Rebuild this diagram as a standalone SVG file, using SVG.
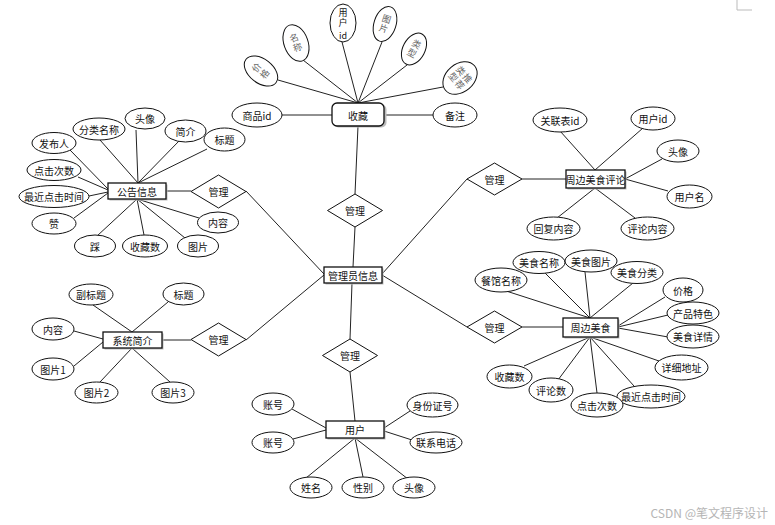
<svg xmlns="http://www.w3.org/2000/svg" width="775" height="525" viewBox="0 0 775 525">
<style>
text{font-family:"Noto Sans CJK SC","Liberation Sans",sans-serif;font-size:10px;fill:#111;text-anchor:middle;dominant-baseline:central}
text.v{writing-mode:vertical-rl;text-orientation:upright;font-size:9px;letter-spacing:1px}
.a{fill:#fff;stroke:#111;stroke-width:1}
.e{fill:#fff;stroke:#111;stroke-width:1.3}
.sh{fill:#bbb;stroke:none}
.r{fill:#fff;stroke:#111;stroke-width:1}
.g text{fill:#666}
#connectors line{stroke:#222;stroke-width:1}
.wm{fill:#b5b5b5;font-size:12px;text-anchor:end}
</style>
<rect width="775" height="525" fill="#fff"/>
<path d="M737 0V10H752" fill="none" stroke="#bbb" stroke-width="1"/>
<g id="connectors">
<line x1="278" y1="80" x2="358" y2="103"/>
<line x1="303" y1="60" x2="358" y2="103"/>
<line x1="342" y1="42" x2="358" y2="103"/>
<line x1="382" y1="42" x2="358" y2="103"/>
<line x1="407" y1="65" x2="358" y2="103"/>
<line x1="443" y1="87" x2="358" y2="103"/>
<line x1="282" y1="115" x2="332" y2="115"/>
<line x1="384" y1="115" x2="433" y2="115"/>
<line x1="358" y1="126" x2="355" y2="194"/>
<line x1="355" y1="227" x2="353" y2="267"/>
<line x1="246" y1="191" x2="324" y2="274"/>
<line x1="246" y1="340" x2="324" y2="275"/>
<line x1="467" y1="179" x2="382" y2="274"/>
<line x1="467" y1="327" x2="382" y2="275"/>
<line x1="350" y1="339" x2="352" y2="283"/>
<line x1="350" y1="372" x2="355" y2="421"/>
<line x1="166" y1="191" x2="191" y2="191"/>
<line x1="70" y1="150" x2="108" y2="189"/>
<line x1="78" y1="177" x2="108" y2="190"/>
<line x1="89" y1="196" x2="108" y2="192"/>
<line x1="74" y1="218" x2="108" y2="193"/>
<line x1="97" y1="236" x2="137" y2="199"/>
<line x1="144" y1="235" x2="137" y2="199"/>
<line x1="185" y1="238" x2="137" y2="199"/>
<line x1="199" y1="218" x2="137" y2="199"/>
<line x1="207" y1="149" x2="138" y2="183"/>
<line x1="180" y1="140" x2="138" y2="183"/>
<line x1="136" y1="130" x2="138" y2="183"/>
<line x1="100" y1="140" x2="138" y2="183"/>
<line x1="522" y1="179" x2="566" y2="179"/>
<line x1="560" y1="131" x2="595" y2="170"/>
<line x1="643" y1="128" x2="595" y2="170"/>
<line x1="662" y1="159" x2="625" y2="179"/>
<line x1="668" y1="191" x2="625" y2="179"/>
<line x1="557" y1="218" x2="595" y2="188"/>
<line x1="635" y1="218" x2="595" y2="188"/>
<line x1="522" y1="327" x2="563" y2="327"/>
<line x1="503" y1="290" x2="590" y2="318"/>
<line x1="545" y1="273" x2="590" y2="318"/>
<line x1="585" y1="272" x2="590" y2="318"/>
<line x1="633" y1="283" x2="590" y2="318"/>
<line x1="665" y1="297" x2="618" y2="326"/>
<line x1="668" y1="315" x2="618" y2="327"/>
<line x1="668" y1="337" x2="618" y2="328"/>
<line x1="659" y1="361" x2="590" y2="337"/>
<line x1="634" y1="386" x2="590" y2="337"/>
<line x1="597" y1="393" x2="590" y2="337"/>
<line x1="558" y1="380" x2="590" y2="337"/>
<line x1="524" y1="366" x2="590" y2="337"/>
<line x1="162" y1="340" x2="191" y2="340"/>
<line x1="93" y1="305" x2="132" y2="332"/>
<line x1="168" y1="302" x2="132" y2="332"/>
<line x1="74" y1="331" x2="103" y2="339"/>
<line x1="74" y1="366" x2="103" y2="342"/>
<line x1="100" y1="382" x2="132" y2="348"/>
<line x1="170" y1="382" x2="132" y2="348"/>
<line x1="292" y1="409" x2="326" y2="428"/>
<line x1="293" y1="439" x2="326" y2="430"/>
<line x1="410" y1="411" x2="384" y2="428"/>
<line x1="412" y1="440" x2="384" y2="431"/>
<line x1="306" y1="478" x2="355" y2="438"/>
<line x1="363" y1="477" x2="355" y2="438"/>
<line x1="408" y1="479" x2="355" y2="438"/>
</g>

<!-- 收藏 cluster -->
<g id="n-shoucang"><rect class="sh" x="333.5" y="104.5" width="53" height="23" rx="5"/><rect class="e" x="332" y="103" width="52" height="23" rx="5"/><text x="358" y="115">收藏</text></g>
<g id="n-spid"><ellipse class="a" cx="257" cy="115" rx="25" ry="12"/><text x="257" y="115">商品id</text></g>
<g id="n-beizhu"><ellipse class="a" cx="455" cy="115" rx="22" ry="12"/><text x="455" y="115">备注</text></g>
<g id="n-jiage1" class="g" transform="translate(261,71) rotate(-52)"><ellipse class="a" rx="12" ry="19"/><text class="v" x="0" y="0">价格</text></g>
<g id="n-mingcheng" class="g" transform="translate(296,43) rotate(-20)"><ellipse class="a" rx="12" ry="19"/><text class="v" x="0" y="0">名称</text></g>
<g id="n-yhid1" transform="translate(343,23)"><ellipse class="a" rx="13" ry="19"/><text class="v" x="0" y="-5">用户</text><text x="0" y="12" style="font-size:9px">id</text></g>
<g id="n-tupian1" class="g" transform="translate(385,24) rotate(18)"><ellipse class="a" rx="11" ry="18"/><text class="v" x="0" y="0">图片</text></g>
<g id="n-leixing" class="g" transform="translate(414,49) rotate(28)"><ellipse class="a" rx="11" ry="17"/><text class="v" x="0" y="0">类型</text></g>
<g id="n-tjlx" class="g" transform="translate(460,78) rotate(50)"><ellipse class="a" rx="14" ry="19"/><text class="v" x="5" y="0">推荐</text><text class="v" x="-5" y="0">类型</text></g>

<!-- 管理员信息 -->
<g id="n-admin"><rect class="sh" x="325.5" y="268.5" width="58" height="16"/><rect class="e" x="324" y="267" width="58" height="16"/><text x="353" y="275">管理员信息</text></g>

<!-- diamonds -->
<g id="d-top"><polygon class="r" points="355,194 382.5,210.5 355,227 327.5,210.5"/><text x="355" y="210.5">管理</text></g>
<g id="d-bottom"><polygon class="r" points="350,339 377.5,355.5 350,372 322.5,355.5"/><text x="350" y="355.5">管理</text></g>
<g id="d-lt"><polygon class="r" points="218.5,175 246,191.5 218.5,208 191,191.5"/><text x="218.5" y="191.5">管理</text></g>
<g id="d-lb"><polygon class="r" points="218.5,323 246,339.5 218.5,356 191,339.5"/><text x="218.5" y="339.5">管理</text></g>
<g id="d-rt"><polygon class="r" points="494.5,163 522,179 494.5,195 467,179"/><text x="494.5" y="179">管理</text></g>
<g id="d-rb"><polygon class="r" points="494.5,311 522,327 494.5,343 467,327"/><text x="494.5" y="327">管理</text></g>

<!-- 公告信息 -->
<g id="n-gonggao"><rect class="sh" x="109.5" y="184.5" width="58" height="16"/><rect class="e" x="108" y="183" width="58" height="16"/><text x="137" y="191">公告信息</text></g>
<g id="n-fbr"><ellipse class="a" cx="54" cy="143" rx="22" ry="10.5"/><text x="54" y="143">发布人</text></g>
<g id="n-djcs1"><ellipse class="a" cx="54" cy="170" rx="27" ry="10.5"/><text x="54" y="170">点击次数</text></g>
<g id="n-zjdj1"><ellipse class="a" cx="54" cy="196.5" rx="35" ry="11"/><text x="54" y="196.5">最近点击时间</text></g>
<g id="n-zan"><ellipse class="a" cx="54" cy="223.5" rx="22" ry="10.5"/><text x="54" y="223.5">赞</text></g>
<g id="n-cai"><ellipse class="a" cx="95" cy="246" rx="20.5" ry="11"/><text x="95" y="246">踩</text></g>
<g id="n-scs1"><ellipse class="a" cx="145" cy="246" rx="22.5" ry="11"/><text x="145" y="246">收藏数</text></g>
<g id="n-tp2"><ellipse class="a" cx="198" cy="246" rx="20.5" ry="11"/><text x="198" y="246">图片</text></g>
<g id="n-nr1"><ellipse class="a" cx="218" cy="222.5" rx="20.5" ry="10.5"/><text x="218" y="222.5">内容</text></g>
<g id="n-bt1"><ellipse class="a" cx="224.5" cy="139.5" rx="20.5" ry="11.5"/><text x="224.5" y="139.5">标题</text></g>
<g id="n-jj"><ellipse class="a" cx="185.5" cy="131" rx="20.5" ry="11"/><text x="185.5" y="131">简介</text></g>
<g id="n-tx1"><ellipse class="a" cx="145" cy="118.5" rx="20" ry="10.5"/><text x="145" y="118.5">头像</text></g>
<g id="n-flmc"><ellipse class="a" cx="99" cy="129" rx="26" ry="11"/><text x="99" y="129">分类名称</text></g>

<!-- 周边美食评论 -->
<g id="n-pinglun"><rect class="sh" x="567.5" y="171.5" width="59" height="18"/><rect class="e" x="566" y="170" width="59" height="18"/><text x="595.5" y="179">周边美食评论</text></g>
<g id="n-glbid"><ellipse class="a" cx="560" cy="120" rx="27" ry="12"/><text x="560" y="120">关联表id</text></g>
<g id="n-yhid2"><ellipse class="a" cx="653" cy="118.5" rx="22" ry="11.5"/><text x="653" y="118.5">用户id</text></g>
<g id="n-tx2"><ellipse class="a" cx="678" cy="151" rx="21" ry="11"/><text x="678" y="151">头像</text></g>
<g id="n-yhm"><ellipse class="a" cx="689.5" cy="196.5" rx="22.5" ry="11.5"/><text x="689.5" y="196.5">用户名</text></g>
<g id="n-hfnr"><ellipse class="a" cx="553.5" cy="228.5" rx="26.5" ry="11.5"/><text x="553.5" y="228.5">回复内容</text></g>
<g id="n-plnr"><ellipse class="a" cx="647.5" cy="228.5" rx="26.5" ry="11.5"/><text x="647.5" y="228.5">评论内容</text></g>

<!-- 周边美食 -->
<g id="n-meishi"><rect class="sh" x="564.5" y="319.5" width="55" height="19"/><rect class="e" x="563" y="318" width="55" height="19"/><text x="590.5" y="327.5">周边美食</text></g>
<g id="n-cgmc"><ellipse class="a" cx="501" cy="280" rx="26" ry="12"/><text x="501" y="280">餐馆名称</text></g>
<g id="n-msmc"><ellipse class="a" cx="539" cy="262.5" rx="26" ry="11"/><text x="539" y="262.5">美食名称</text></g>
<g id="n-mstp"><ellipse class="a" cx="591" cy="261" rx="26" ry="11"/><text x="591" y="261">美食图片</text></g>
<g id="n-msfl"><ellipse class="a" cx="637" cy="272.5" rx="26" ry="11"/><text x="637" y="272.5">美食分类</text></g>
<g id="n-jg"><ellipse class="a" cx="683" cy="290" rx="20" ry="12"/><text x="683" y="290">价格</text></g>
<g id="n-cpts"><ellipse class="a" cx="693" cy="313" rx="26" ry="11"/><text x="693" y="313">产品特色</text></g>
<g id="n-msxq"><ellipse class="a" cx="693" cy="336.5" rx="26" ry="11.5"/><text x="693" y="336.5">美食详情</text></g>
<g id="n-xxdz"><ellipse class="a" cx="681.5" cy="367.5" rx="26.5" ry="12.5"/><text x="681.5" y="367.5">详细地址</text></g>
<g id="n-zjdj2"><ellipse class="a" cx="651" cy="396.5" rx="34" ry="11.5"/><text x="651" y="396.5">最近点击时间</text></g>
<g id="n-djcs2"><ellipse class="a" cx="597" cy="405" rx="26" ry="12"/><text x="597" y="405">点击次数</text></g>
<g id="n-pls"><ellipse class="a" cx="551" cy="390" rx="22" ry="12"/><text x="551" y="390">评论数</text></g>
<g id="n-scs2"><ellipse class="a" cx="509.5" cy="376.5" rx="22.5" ry="11.5"/><text x="509.5" y="376.5">收藏数</text></g>

<!-- 系统简介 -->
<g id="n-xitong"><rect class="sh" x="104.5" y="333.5" width="59" height="16"/><rect class="e" x="103" y="332" width="59" height="16"/><text x="132.5" y="340">系统简介</text></g>
<g id="n-fbt"><ellipse class="a" cx="91" cy="294.5" rx="22" ry="10.5"/><text x="91" y="294.5">副标题</text></g>
<g id="n-bt2"><ellipse class="a" cx="183.5" cy="294" rx="20.5" ry="11"/><text x="183.5" y="294">标题</text></g>
<g id="n-nr2"><ellipse class="a" cx="53" cy="329" rx="21" ry="11"/><text x="53" y="329">内容</text></g>
<g id="n-tp1a"><ellipse class="a" cx="53" cy="369" rx="21" ry="11"/><text x="53" y="369">图片1</text></g>
<g id="n-tp2a"><ellipse class="a" cx="96.5" cy="392.5" rx="21.5" ry="10.5"/><text x="96.5" y="392.5">图片2</text></g>
<g id="n-tp3a"><ellipse class="a" cx="173" cy="392.5" rx="21" ry="10.5"/><text x="173" y="392.5">图片3</text></g>

<!-- 用户 -->
<g id="n-yonghu"><rect class="sh" x="327.5" y="422.5" width="58" height="17"/><rect class="e" x="326" y="421" width="58" height="17"/><text x="355" y="429.5">用户</text></g>
<g id="n-zh1"><ellipse class="a" cx="273" cy="404" rx="21" ry="11"/><text x="273" y="404">账号</text></g>
<g id="n-zh2"><ellipse class="a" cx="273" cy="442.5" rx="21" ry="10.5"/><text x="273" y="442.5">账号</text></g>
<g id="n-sfzh"><ellipse class="a" cx="432.5" cy="405" rx="25.5" ry="12"/><text x="432.5" y="405">身份证号</text></g>
<g id="n-lxdh"><ellipse class="a" cx="436" cy="442.5" rx="26" ry="10.5"/><text x="436" y="442.5">联系电话</text></g>
<g id="n-xm"><ellipse class="a" cx="311" cy="487.5" rx="21" ry="10.5"/><text x="311" y="487.5">姓名</text></g>
<g id="n-xb"><ellipse class="a" cx="363" cy="487.5" rx="21" ry="10.5"/><text x="363" y="487.5">性别</text></g>
<g id="n-tx3"><ellipse class="a" cx="414" cy="487.5" rx="21" ry="10.5"/><text x="414" y="487.5">头像</text></g>

<text class="wm" x="768" y="512">CSDN @笔文程序设计</text>
</svg>
